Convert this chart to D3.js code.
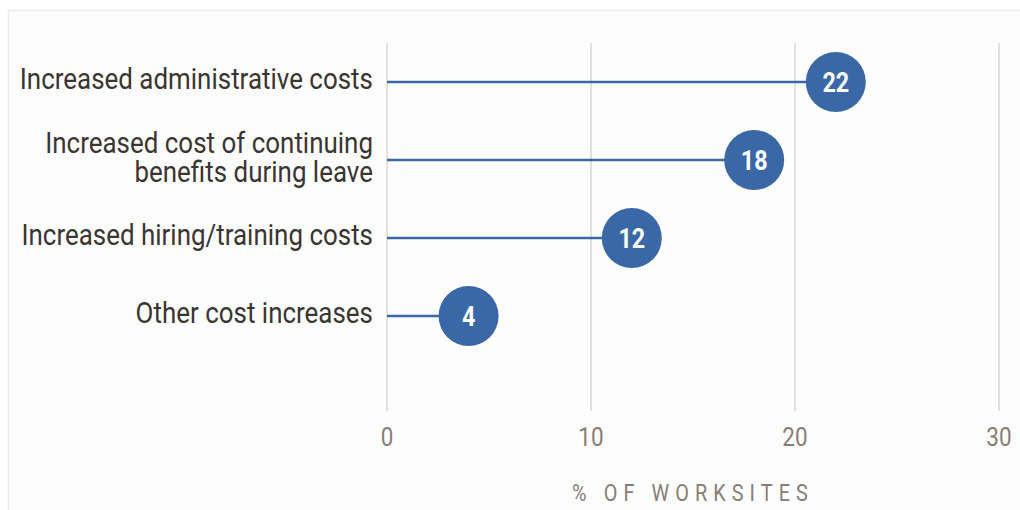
<!DOCTYPE html>
<html>
<head>
<meta charset="utf-8">
<script src="https://cdn.jsdelivr.net/npm/d3@7"></script>
<style>
  html, body { margin: 0; padding: 0; background: #ffffff; }
  svg { display: block; }
  text { font-family: "Roboto", "Noto Sans", sans-serif; }
</style>
</head>
<body>
<svg id="chart" width="1020" height="510"></svg>
<script>
// Share of worksites reporting each type of cost increase
const categories = [
  ["Increased administrative costs"],
  ["Increased cost of continuing", "benefits during leave"],
  ["Increased hiring/training costs"],
  ["Other cost increases"]
];
const values = [22, 18, 12, 4];
const xTicks = [0, 10, 20, 30];
const axisTitle = "% OF WORKSITES";

const W = 1020, H = 510;
const plot = { left: 387, right: 999, top: 43, bottom: 411 };
const squeeze = 0.865; // narrow face to mimic a condensed typeface

const svg = d3.select("#chart");

// panel background and frame
svg.append("rect").attr("x", 0).attr("y", 0).attr("width", W).attr("height", H).attr("fill", "#ffffff");
svg.append("rect")
  .attr("x", 8.5).attr("y", 10.5).attr("width", W + 10).attr("height", H)
  .attr("fill", "#fefdfd").attr("stroke", "#ebebeb").attr("stroke-width", 1.5);

const x = d3.scaleLinear().domain([0, 30]).range([plot.left, plot.right]);
const y = d3.scalePoint().domain(d3.range(categories.length)).range([82, 316]);

// vertical gridlines
svg.append("g").selectAll("line").data(xTicks).join("line")
  .attr("x1", d => x(d)).attr("x2", d => x(d))
  .attr("y1", plot.top).attr("y2", plot.bottom)
  .attr("stroke", "#cfcbc8").attr("stroke-width", 1.2);

// tick labels
svg.append("g").selectAll("g").data(xTicks).join("g")
  .attr("transform", d => `translate(${x(d)},446) scale(${squeeze},1)`)
  .append("text")
  .attr("text-anchor", "middle")
  .attr("font-size", 26)
  .attr("fill", "#877d77")
  .text(d => d);

// axis title
svg.append("g")
  .attr("transform", `translate(${(plot.left + plot.right) / 2},501) scale(${squeeze},1)`)
  .append("text")
  .attr("text-anchor", "middle")
  .attr("font-size", 23)
  .attr("letter-spacing", 7)
  .attr("fill", "#877d77")
  .text(axisTitle);

// category labels
const lab = svg.append("g").selectAll("g").data(categories).join("g")
  .attr("transform", (d, i) => `translate(373,${y(i)}) scale(${squeeze},1)`);
lab.each(function (lines) {
  const t = d3.select(this).append("text")
    .attr("text-anchor", "end")
    .attr("font-size", 30)
    .attr("fill", "#3a3532");
  const lh = 29;
  const off = -(lines.length - 1) * lh / 2 + 7;
  lines.forEach((s, k) => {
    t.append("tspan").attr("x", 0).attr("y", off + k * lh).text(s);
  });
});

// stems
svg.append("g").selectAll("line").data(values).join("line")
  .attr("x1", x(0)).attr("x2", d => x(d))
  .attr("y1", (d, i) => y(i)).attr("y2", (d, i) => y(i))
  .attr("stroke", "#3c67a6").attr("stroke-width", 2.6);

// dots
svg.append("g").selectAll("circle").data(values).join("circle")
  .attr("cx", d => x(d)).attr("cy", (d, i) => y(i))
  .attr("r", 30)
  .attr("fill", "#3a68a7");

// value labels
svg.append("g").selectAll("g").data(values).join("g")
  .attr("transform", (d, i) => `translate(${x(d)},${y(i) + 9.5}) scale(${squeeze},1)`)
  .append("text")
  .attr("text-anchor", "middle")
  .attr("font-size", 27)
  .attr("font-weight", 700)
  .attr("fill", "#ffffff")
  .text(d => d);
</script>
</body>
</html>
